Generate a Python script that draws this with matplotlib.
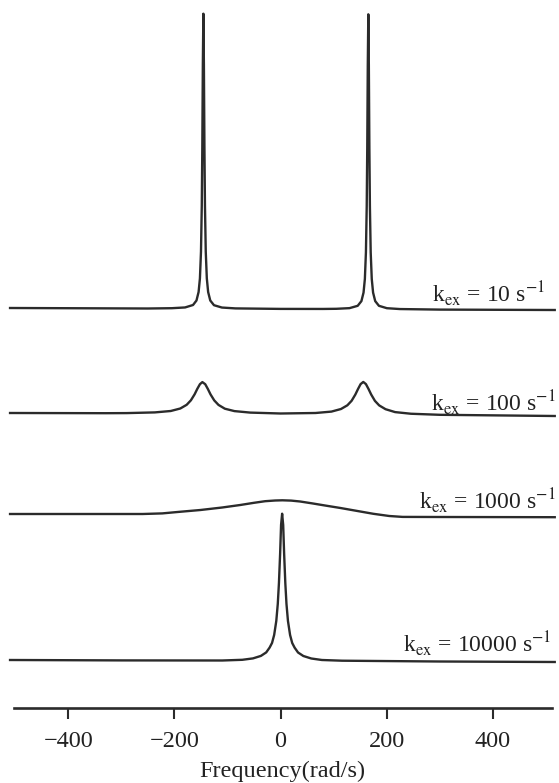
import matplotlib
matplotlib.use("Agg")
import matplotlib.pyplot as plt
import numpy as np

plt.rcParams['font.family'] = ['Liberation Serif', 'DejaVu Serif']
plt.rcParams['mathtext.fontset'] = 'stix'

# ---------------- data ----------------
xticks = [-400, -200, 0, 200, 400]
xlabel = "Frequency(rad/s)"

kex_labels = [r"k$_{\mathrm{ex}}$ = 10 s$^{-1}$",
              r"k$_{\mathrm{ex}}$ = 100 s$^{-1}$",
              r"k$_{\mathrm{ex}}$ = 1000 s$^{-1}$",
              r"k$_{\mathrm{ex}}$ = 10000 s$^{-1}$"]

freq_10 = [-510, -250, -205, -180, -165, -158.5, -154.5, -152, -150, -148.5,
           -147.5, -146.5, -145.5, -144.5, -143.5, -142.5, -141, -139, -136.5,
           -132.5, -125.5, -110.5, -85, 0, 80, 105, 130, 145.5, 152.5, 156.5,
           159, 161, 162.5, 163.5, 164.5, 165.5, 166.5, 167.5, 168.5, 170, 172,
           174.5, 178.5, 185.5, 200.5, 225, 300, 517]
int_10 = [0, -0.5, -0.2, 0.55, 3.0, 7.5, 16.0, 29.6, 56.3, 102.3,
          160.8, 243.3, 294.3, 243.3, 160.8, 102.3, 56.3, 29.6, 16.0,
          7.5, 2.8, 0.45, -0.4, -0.9, -0.95, -0.8, -0.15, 2.2, 6.9, 15.4,
          29.0, 55.7, 101.7, 160.2, 242.7, 293.7, 242.7, 160.2, 101.7, 55.7, 29.0,
          15.4, 6.9, 2.2, -0.2, -1.05, -1.6, -2.0]

freq_100 = [-510, -330, -290, -237, -207, -189, -177, -169, -162, -157, -152,
            -147.4, -142, -137, -132, -125, -117, -105, -87, -57, 0, 66, 96,
            114, 126, 134, 141, 146, 151, 156, 161, 166, 171, 178, 186, 198,
            216, 246, 300, 517]
int_100 = [0, -0.2, -0.1, 0.6, 2.0, 4.5, 8.2, 12.7, 18.7, 24.1, 28.8,
           30.9, 28.8, 24.0, 18.6, 12.6, 8.1, 4.3, 1.9, 0.4, -0.5, 0.0, 1.4,
           4.0, 7.7, 12.2, 18.4, 23.9, 28.9, 31.05, 28.9, 23.9, 18.4, 12.1, 7.6, 3.8,
           0.9, -0.75, -1.8, -3.0]

freq_1000 = [-510, -260, -223, -190, -151, -110, -76, -50, -29, -10, 3.4, 20,
             37, 60, 85, 113, 145, 175, 205, 230, 300, 517]
int_1000 = [0, 0, 0.6, 2.2, 4.0, 6.5, 9.0, 11.2, 12.8, 13.5, 13.7, 13.4,
            12.5, 10.6, 8.4, 6.0, 3.0, 0.2, -2.0, -2.9, -3.0, -3.2]

freq_10000 = [-510, -300, -110, -72, -52, -37, -27, -20.6, -16, -12, -8, -5.2,
              -3, -0.8, 1, 3, 5, 6.8, 9, 11.2, 14, 18, 22, 26.6, 33, 43, 58, 78,
              116, 300, 517]
int_10000 = [0, -0.4, -0.5, 0.2, 1.6, 4.1, 7.6, 12.4, 17.1, 25.1, 39.1, 56.1,
             77.1, 106.1, 135.1, 146.3, 135, 106, 77, 56, 39, 25, 17, 12.3, 7.5,
             4.0, 1.5, 0.0, -0.7, -1.5, -2.0]

# ---------------- layout ----------------
W, H = 559, 783
px_left, px_right, spine_y = 10, 555, 707.5
baselines_px = [308, 413, 514, 660]          # trace baselines (pixel rows)
label_pos_px = [(545.5, 302), (556, 411), (556, 509), (551, 652)]
ink = '#2b2b2b'

fig = plt.figure(figsize=(W / 100, H / 100), dpi=100)
fig.patch.set_facecolor('white')
ax = fig.add_axes([px_left / W, (H - spine_y) / H,
                   (px_right - px_left) / W, spine_y / H])
ax.set_xlim(-510.1, 517.5)
ax.set_ylim(0, spine_y)

series = [(freq_10, int_10), (freq_100, int_100),
          (freq_1000, int_1000), (freq_10000, int_10000)]
for (f, v), b in zip(series, baselines_px):
    off = spine_y - b
    ax.plot(f, np.asarray(v) + off, color=ink, lw=1.7,
            solid_joinstyle='round', clip_on=False)

for lab, (xp, yp) in zip(kex_labels, label_pos_px):
    fig.text(xp / W, 1 - yp / H, lab, ha='right', va='baseline',
             fontsize=17, color='#222222')

for s in ['left', 'right', 'top']:
    ax.spines[s].set_visible(False)
ax.spines['bottom'].set_bounds(-502, 511)
ax.spines['bottom'].set_linewidth(1.9)
ax.spines['bottom'].set_color(ink)
ax.set_yticks([])
ax.set_xticks(xticks)
ax.set_xticklabels([f"{t}".replace('-', '\u2212') for t in xticks])
ax.tick_params(axis='x', direction='out', length=8, width=1.5, pad=9,
               labelsize=17.5, color=ink, labelcolor='#222222')

fig.text(282 / W, 1 - 777 / H, xlabel, ha='center', va='baseline',
         fontsize=17.5, color='#222222')

fig.savefig('out.png', dpi=100, facecolor='white')
